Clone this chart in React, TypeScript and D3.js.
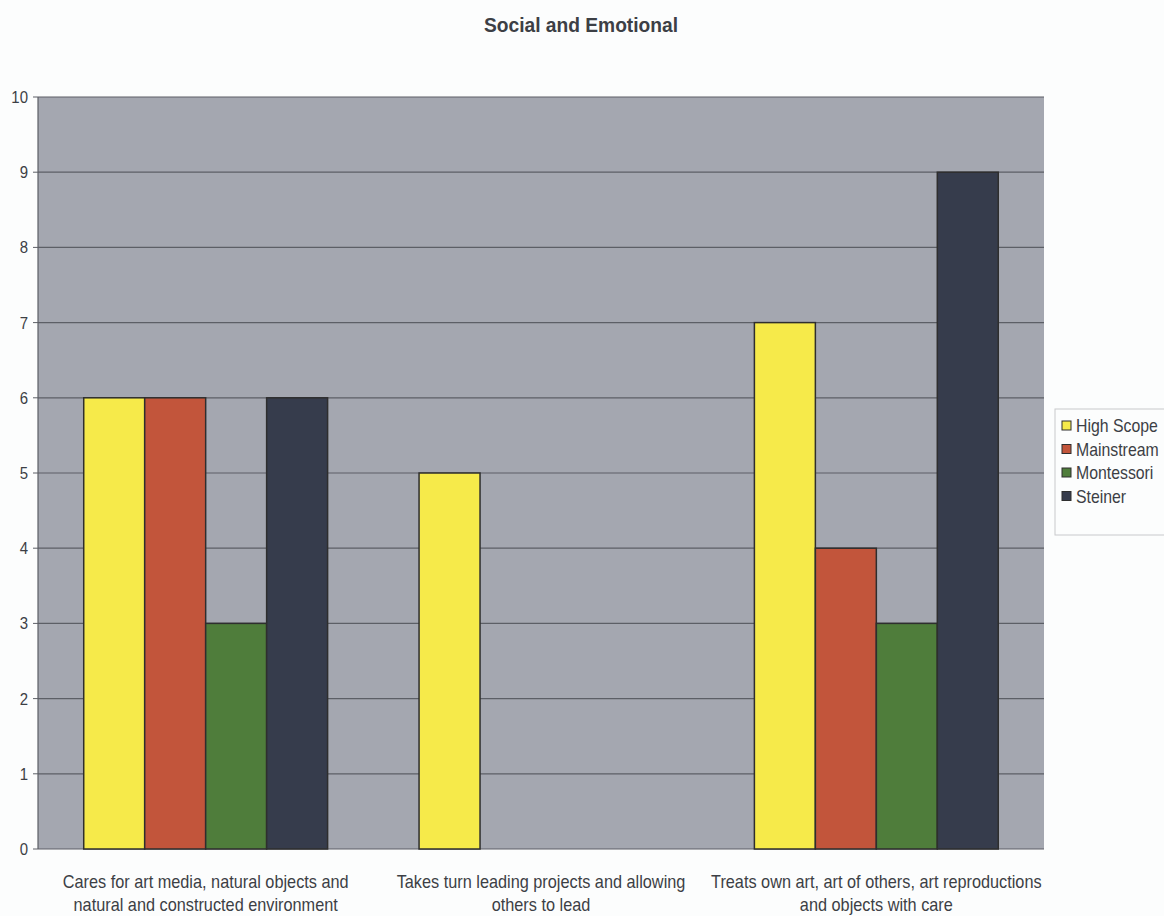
import React from "react";
import * as d3 from "d3";

const categories: string[][] = [
  ["Cares for art media, natural objects and", "natural and constructed environment"],
  ["Takes turn leading projects and allowing", "others to lead"],
  ["Treats own art, art of others, art reproductions", "and objects with care"],
];
const seriesNames = ["High Scope", "Mainstream", "Montessori", "Steiner"];
const highScope = [6, 5, 7];
const mainstream = [6, 0, 4];
const montessori = [3, 0, 3];
const steiner = [6, 0, 9];
const yTicks = [0, 1, 2, 3, 4, 5, 6, 7, 8, 9, 10];
const colors = ["#f6ea4a", "#c2553b", "#4f7d3b", "#363c4c"];

const W = 1164;
const H = 916;
const plot = { left: 38, right: 1044, top: 97, bottom: 849 };
const font = "'Liberation Sans', Arial, sans-serif";
const textColor = "#3c3f45";

// Narrow text: regular sans squeezed horizontally around its anchor point
function NarrowText(props: {
  x: number;
  y: number;
  size: number;
  squeeze: number;
  anchor?: "start" | "middle" | "end";
  weight?: string;
  children: React.ReactNode;
}) {
  const { x, y, size, squeeze, anchor = "start", weight = "normal", children } = props;
  return (
    <g transform={`translate(${x},${y}) scale(${squeeze},1)`}>
      <text
        x={0}
        y={0}
        textAnchor={anchor}
        fontFamily={font}
        fontSize={size}
        fontWeight={weight}
        fill={textColor}
      >
        {children}
      </text>
    </g>
  );
}

export default function App() {
  const series = [highScope, mainstream, montessori, steiner];
  const x0 = d3
    .scaleBand<number>()
    .domain(d3.range(categories.length))
    .range([plot.left, plot.right])
    .paddingInner(0)
    .paddingOuter(0);
  // 150% gap between groups: 4 bars + 1.5 bar widths of gap per category
  const bw = x0.bandwidth() / (seriesNames.length + 1.5);
  const y = d3.scaleLinear().domain([0, 10]).range([plot.bottom, plot.top]);

  return (
    <svg
      width={W}
      height={H}
      style={{ position: "absolute", left: 0, top: 0, background: "#fcfdfd" }}
    >
      <rect x={0} y={0} width={W} height={H} fill="#fcfdfd" />
      <NarrowText x={581} y={32} size={20} squeeze={0.96} anchor="middle" weight="bold">
        Social and Emotional
      </NarrowText>
      <rect
        x={plot.left}
        y={plot.top}
        width={plot.right - plot.left}
        height={plot.bottom - plot.top}
        fill="#a4a7b0"
      />
      {yTicks.map((t) => (
        <g key={t}>
          <line
            x1={plot.left}
            x2={plot.right}
            y1={y(t)}
            y2={y(t)}
            stroke="#5c5f66"
            strokeWidth={1.2}
          />
          <line x1={plot.left - 5} x2={plot.left} y1={y(t)} y2={y(t)} stroke="#5c5f66" />
          <NarrowText x={plot.left - 10} y={y(t) + 6} size={17} squeeze={0.88} anchor="end">
            {t}
          </NarrowText>
        </g>
      ))}
      <line x1={plot.left} x2={plot.left} y1={plot.top} y2={plot.bottom} stroke="#5c5f66" strokeWidth={1.2} />
      {categories.map((_, ci) =>
        series.map((vals, si) => {
          const v = vals[ci];
          if (v <= 0) return null;
          const bx = (x0(ci) as number) + bw * 0.75 + si * bw;
          return (
            <rect
              key={`${ci}-${si}`}
              x={bx}
              y={y(v)}
              width={bw}
              height={y(0) - y(v)}
              fill={colors[si]}
              stroke="#2e2e2e"
              strokeWidth={1.5}
            />
          );
        })
      )}
      {categories.map((lines, ci) => {
        const cx = (x0(ci) as number) + x0.bandwidth() / 2;
        return (
          <g key={ci}>
            {lines.map((l, li) => (
              <NarrowText key={li} x={cx} y={888 + li * 23} size={18} squeeze={0.905} anchor="middle">
                {l}
              </NarrowText>
            ))}
          </g>
        );
      })}
      <g>
        <rect x={1055} y={409} width={112} height={126} fill="#fcfdfd" stroke="#c8c9cc" />
        {seriesNames.map((name, i) => (
          <g key={name}>
            <rect
              x={1062}
              y={421 + i * 23.5}
              width={9}
              height={9}
              fill={colors[i]}
              stroke="#2e2e2e"
              strokeWidth={1}
            />
            <NarrowText x={1076} y={432 + i * 23.5} size={18} squeeze={0.88}>
              {name}
            </NarrowText>
          </g>
        ))}
      </g>
    </svg>
  );
}
